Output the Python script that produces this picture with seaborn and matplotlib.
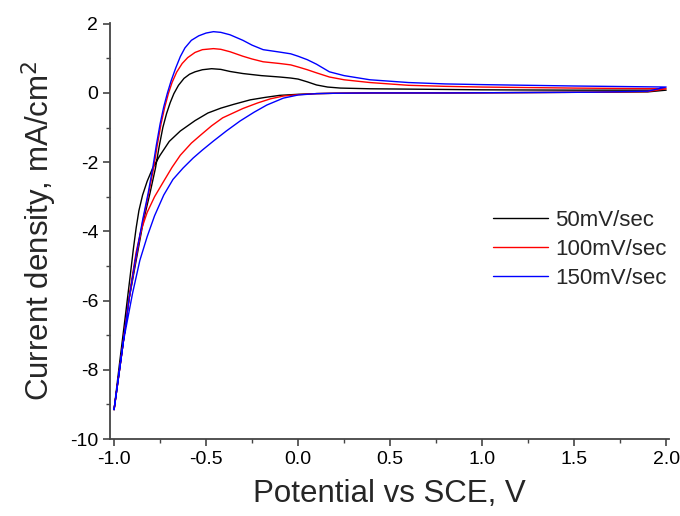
import matplotlib
matplotlib.use("Agg")
import matplotlib.pyplot as plt
from matplotlib.ticker import MultipleLocator, FormatStrFormatter
import seaborn as sns
import pandas as pd

# forward scans (-1.0 V -> 2.0 V)
fwd_v_50 = [-1.0, -0.96, -0.92, -0.88, -0.84, -0.805, -0.775, -0.755, -0.735, -0.715, -0.695, -0.675, -0.65,
            -0.62, -0.59, -0.56, -0.52, -0.47, -0.42, -0.37, -0.3, -0.2, -0.1, -0.04, 0.0, 0.05, 0.1, 0.16,
            0.23, 0.39, 0.6, 1.0, 1.5, 2.0]
fwd_j_50 = [-9.15, -7.6, -6.0, -4.84, -3.68, -2.9, -2.17, -1.55, -1.0, -0.6, -0.28, -0.02, 0.22,
            0.42, 0.54, 0.61, 0.67, 0.70, 0.68, 0.62, 0.56, 0.5, 0.46, 0.43, 0.40, 0.32, 0.23, 0.17,
            0.14, 0.12, 0.11, 0.09, 0.08, 0.08]

fwd_v_100 = [-1.0, -0.96, -0.92, -0.883, -0.843, -0.812, -0.785, -0.765, -0.745, -0.725, -0.705, -0.685,
             -0.66, -0.63, -0.6, -0.56, -0.52, -0.46, -0.42, -0.37, -0.3, -0.25, -0.19, -0.1, -0.04, 0.0,
             0.05, 0.1, 0.17, 0.25, 0.39, 0.6, 0.8, 1.0, 1.5, 2.0]
fwd_j_100 = [-9.15, -7.6, -6.0, -4.84, -3.68, -2.9, -2.17, -1.5, -0.9, -0.42, -0.02, 0.3,
             0.6, 0.85, 1.02, 1.17, 1.25, 1.28, 1.26, 1.19, 1.06, 0.98, 0.9, 0.85, 0.81, 0.75,
             0.67, 0.58, 0.46, 0.38, 0.3, 0.22, 0.19, 0.17, 0.14, 0.12]

fwd_v_150 = [-1.0, -0.96, -0.92, -0.885, -0.845, -0.815, -0.79, -0.77, -0.75, -0.73, -0.71, -0.69, -0.665,
             -0.64, -0.615, -0.58, -0.54, -0.5, -0.46, -0.42, -0.37, -0.3, -0.25, -0.19, -0.1, -0.04, 0.0,
             0.05, 0.1, 0.17, 0.25, 0.39, 0.6, 0.8, 1.0, 1.5, 2.0]
fwd_j_150 = [-9.15, -7.6, -6.0, -4.84, -3.68, -2.9, -2.17, -1.5, -0.9, -0.4, 0.0, 0.35, 0.72,
             1.05, 1.3, 1.52, 1.65, 1.73, 1.77, 1.75, 1.68, 1.52, 1.38, 1.25, 1.18, 1.13, 1.06,
             0.96, 0.83, 0.61, 0.5, 0.38, 0.3, 0.26, 0.24, 0.2, 0.17]

# reverse scans (2.0 V -> -1.0 V)
rev_v_50 = [2.0, 1.9, 1.6, 1.2, 0.8, 0.4, 0.2, 0.1, 0.0, -0.1, -0.18, -0.26, -0.35, -0.42, -0.49, -0.56,
            -0.64, -0.7, -0.75, -0.79, -0.82, -0.845, -0.865, -0.88, -0.895, -0.915, -0.94, -0.97, -1.0]
rev_j_50 = [0.08, 0.03, 0.02, 0.01, 0.0, 0.0, -0.01, -0.02, -0.04, -0.07, -0.13, -0.2, -0.33, -0.44, -0.58, -0.8,
            -1.1, -1.4, -1.8, -2.17, -2.55, -2.95, -3.4, -3.9, -4.5, -5.4, -6.5, -7.8, -9.15]

rev_v_100 = [2.0, 1.9, 1.6, 1.2, 0.8, 0.4, 0.2, 0.1, 0.0, -0.08, -0.15, -0.22, -0.3, -0.41, -0.47, -0.53,
             -0.58, -0.64, -0.685, -0.73, -0.78, -0.82, -0.855, -0.88, -0.91, -0.95, -1.0]
rev_j_100 = [0.12, 0.04, 0.02, 0.01, 0.0, 0.0, -0.01, -0.02, -0.05, -0.09, -0.17, -0.29, -0.45, -0.72, -0.95, -1.22,
             -1.45, -1.8, -2.15, -2.55, -3.0, -3.45, -4.0, -4.6, -5.6, -7.2, -9.15]

rev_v_150 = [2.0, 1.9, 1.6, 1.2, 0.8, 0.4, 0.2, 0.1, 0.0, -0.08, -0.17, -0.24, -0.315, -0.39, -0.46, -0.52,
             -0.57, -0.625, -0.68, -0.73, -0.78, -0.82, -0.86, -0.9, -0.95, -1.0]
rev_j_150 = [0.17, 0.05, 0.02, 0.01, 0.0, 0.0, -0.01, -0.02, -0.06, -0.15, -0.35, -0.56, -0.81, -1.1, -1.39, -1.65,
             -1.88, -2.17, -2.5, -2.95, -3.55, -4.15, -4.84, -5.8, -7.2, -9.15]

labels = ["50mV/sec", "100mV/sec", "150mV/sec"]
colors = ["black", "red", "blue"]

rows = []
series = [(fwd_v_50, fwd_j_50, rev_v_50, rev_j_50),
          (fwd_v_100, fwd_j_100, rev_v_100, rev_j_100),
          (fwd_v_150, fwd_j_150, rev_v_150, rev_j_150)]
for lab, (fv, fj, rv, rj) in zip(labels, series):
    for v, j in zip(fv + rv, fj + rj):
        rows.append({"potential": v, "current": j, "rate": lab})
df = pd.DataFrame(rows)

sns.set_style("ticks")
plt.rcParams["font.family"] = ["Liberation Sans", "DejaVu Sans"]
plt.rcParams["axes.unicode_minus"] = False

fig = plt.figure(figsize=(6.8, 5.16), dpi=100)
ax = fig.add_axes([0.1618, 0.1492, 0.8222, 0.8062])

sns.lineplot(data=df, x="potential", y="current", hue="rate", hue_order=labels,
             palette=colors, sort=False, estimator=None, linewidth=1.0, ax=ax)

ax.set_xlim(-1.022, 2.016)
ax.set_ylim(-10, 2.02)
ax.xaxis.set_major_locator(MultipleLocator(0.5))
ax.xaxis.set_minor_locator(MultipleLocator(0.25))
ax.yaxis.set_major_locator(MultipleLocator(2))
ax.yaxis.set_minor_locator(MultipleLocator(1))
ax.xaxis.set_major_formatter(FormatStrFormatter("%.1f"))

for s in ["top", "right"]:
    ax.spines[s].set_visible(False)
for s in ["left", "bottom"]:
    ax.spines[s].set_color("#444444")
    ax.spines[s].set_linewidth(1.3)
ax.tick_params(which="major", direction="out", length=5, width=1.2, color="#444444",
               labelsize=14, labelcolor="black")
ax.tick_params(which="minor", direction="out", length=3, width=1.0, color="#444444")

ax.set_xlabel("Potential vs SCE, V", fontsize=22.5, labelpad=8)
ax.set_ylabel("Current density, mA/cm$^2$", fontsize=22.5, labelpad=8)

ax.legend(loc="upper right", bbox_to_anchor=(0.995, 0.55), frameon=False, fontsize=16,
          handlelength=2.5, handletextpad=0.3, labelspacing=0.35, borderpad=0, borderaxespad=0)

fig.savefig("out.png", dpi=100)
